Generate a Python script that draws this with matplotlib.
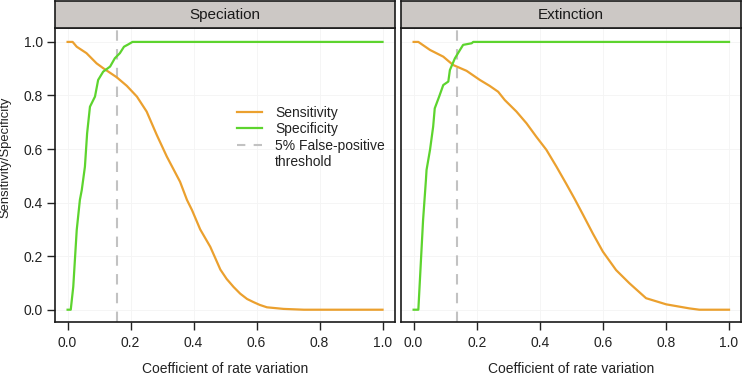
import matplotlib
matplotlib.use("Agg")
import matplotlib.pyplot as plt
from matplotlib.lines import Line2D

plt.rcParams['font.family'] = ['Liberation Sans', 'DejaVu Sans']

# ---------------- data ----------------
panels = ["Speciation", "Extinction"]

spec_sens_x = [0.0, 0.016, 0.029, 0.060, 0.092, 0.113, 0.156, 0.188, 0.220, 0.251, 0.283,
               0.315, 0.357, 0.379, 0.395, 0.421, 0.453, 0.470, 0.485, 0.505, 0.527,
               0.548, 0.570, 0.591, 0.610, 0.633, 0.686, 0.75, 1.0]
spec_sens_y = [1.0, 1.0, 0.982, 0.958, 0.920, 0.902, 0.868, 0.836, 0.796, 0.740, 0.653,
               0.572, 0.478, 0.410, 0.372, 0.300, 0.235, 0.190, 0.150, 0.115, 0.085,
               0.060, 0.040, 0.028, 0.018, 0.009, 0.003, 0.0, 0.0]
spec_spec_x = [0.0, 0.010, 0.018, 0.029, 0.039, 0.045, 0.055, 0.062, 0.071, 0.087, 0.097,
               0.113, 0.135, 0.150, 0.166, 0.179, 0.193, 0.206, 1.0]
spec_spec_y = [0.0, 0.0, 0.086, 0.298, 0.410, 0.447, 0.534, 0.659, 0.758, 0.796, 0.858,
               0.889, 0.908, 0.939, 0.958, 0.982, 0.991, 1.0, 1.0]

ext_sens_x = [0.0, 0.015, 0.052, 0.094, 0.125, 0.168, 0.210, 0.241, 0.268, 0.289, 0.326,
              0.358, 0.389, 0.421, 0.453, 0.484, 0.510, 0.537, 0.568, 0.600, 0.642,
              0.684, 0.737, 0.801, 0.874, 0.906, 1.0]
ext_sens_y = [1.0, 1.0, 0.970, 0.945, 0.914, 0.892, 0.858, 0.836, 0.814, 0.783, 0.740,
              0.696, 0.646, 0.597, 0.534, 0.470, 0.415, 0.355, 0.285, 0.217, 0.148,
              0.099, 0.043, 0.020, 0.005, 0.0, 0.0]
ext_spec_x = [0.0, 0.015, 0.030, 0.039, 0.041, 0.052, 0.062, 0.067, 0.081, 0.094, 0.110,
              0.115, 0.131, 0.147, 0.157, 0.184, 0.189, 1.0]
ext_spec_y = [0.0, 0.0, 0.335, 0.484, 0.522, 0.597, 0.684, 0.752, 0.796, 0.839, 0.852,
              0.895, 0.939, 0.970, 0.989, 0.995, 1.0, 1.0]

thresholds = [0.156, 0.137]

sens_x = [spec_sens_x, ext_sens_x]
sens_y = [spec_sens_y, ext_sens_y]
spc_x = [spec_spec_x, ext_spec_x]
spc_y = [spec_spec_y, ext_spec_y]

ticks = [0.0, 0.2, 0.4, 0.6, 0.8, 1.0]
tick_labels = ["0.0", "0.2", "0.4", "0.6", "0.8", "1.0"]

ORANGE = "#EBA02E"
GREEN = "#5DD42E"
GREY = "#C2C2C2"
STRIP = "#CCC8C5"

# ---------------- figure ----------------
W, H = 743, 377
fig = plt.figure(figsize=(W / 100, H / 100), dpi=100)

lefts = [55, 401]
rights = [394.5, 741]
top_px, strip_bot_px, bot_px = 1, 28, 322.3

for i in range(2):
    l, r = lefts[i], rights[i]
    ax = fig.add_axes([l / W, 1 - bot_px / H, (r - l) / W, (bot_px - strip_bot_px) / H])
    ax.set_xlim(-0.04, 1.038)
    ax.set_ylim(-0.047, 1.052)
    for t in ticks:
        ax.axhline(t, color="#F4F4F4", lw=0.6, zorder=0)
        ax.axvline(t, color="#F4F4F4", lw=0.6, zorder=0)
    ax.plot(sens_x[i], sens_y[i], color=ORANGE, lw=1.6, zorder=3)
    ax.plot(spc_x[i], spc_y[i], color=GREEN, lw=1.6, zorder=3)
    ax.axvline(thresholds[i], color=GREY, lw=1.5, dashes=(5, 4), zorder=2)
    ax.set_xticks(ticks)
    ax.set_xticklabels(tick_labels)
    ax.tick_params(axis="x", length=6, width=1.0, pad=4, labelsize=10,
                   color="#222222", labelcolor="#222222")
    if i == 0:
        ax.set_yticks(ticks)
        ax.set_yticklabels(tick_labels)
        ax.tick_params(axis="y", length=6, width=1.0, pad=2.5, labelsize=10,
                       color="#222222", labelcolor="#222222")
        handles = [
            Line2D([], [], color=ORANGE, lw=1.6),
            Line2D([], [], color=GREEN, lw=1.6),
            Line2D([], [], color=GREY, lw=1.5, dashes=(4, 4)),
            Line2D([], [], color="none", lw=0),
        ]
        labels = ["Sensitivity", "Specificity", "5% False-positive", "threshold"]
        ax.legend(handles, labels, loc="upper left",
                  bbox_to_anchor=(236.7 / W, 1 - 105.5 / H),
                  bbox_transform=fig.transFigure, frameon=False, fontsize=10,
                  handlelength=1.85, handletextpad=0.9, labelspacing=0.19,
                  borderpad=0, borderaxespad=0, labelcolor="#222222")
    else:
        ax.set_yticks([])
    for s in ax.spines.values():
        s.set_linewidth(1.2)
        s.set_color("#1a1a1a")
    ax.set_xlabel("Coefficient of rate variation", fontsize=10, labelpad=8.5,
                  color="#222222")

    sax = fig.add_axes([l / W, 1 - strip_bot_px / H, (r - l) / W, (strip_bot_px - top_px) / H])
    sax.set_facecolor(STRIP)
    sax.set_xticks([])
    sax.set_yticks([])
    for s in sax.spines.values():
        s.set_linewidth(1.2)
        s.set_color("#1a1a1a")
    sax.text(0.5, 0.47, panels[i], ha="center", va="center", fontsize=11,
             transform=sax.transAxes, color="#1a1a1a")

fig.text(5 / W, 1 - 157 / H, "Sensitivity/Specificity", rotation=90, ha="center",
         va="center", fontsize=9.4, color="#222222")

fig.savefig("out.png", dpi=100)
